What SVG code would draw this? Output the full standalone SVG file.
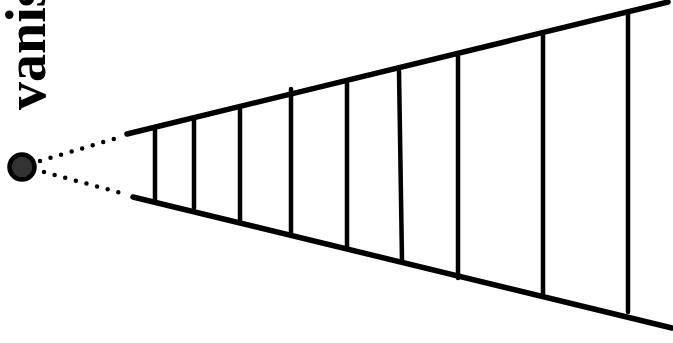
<svg xmlns="http://www.w3.org/2000/svg" width="673" height="343" viewBox="0 0 673 343">
  <style>
    .rail { stroke: #000; stroke-width: 5.5; stroke-linecap: round; fill: none; }
    .rung { stroke: #000; stroke-width: 4.5; stroke-linecap: round; fill: none; }
    .dots { stroke: #000; stroke-width: 4.5; stroke-linecap: round; stroke-dasharray: 0 11; fill: none; }
    .label { font-family: "Liberation Serif", "Times New Roman", serif; font-weight: bold; font-size: 56px; fill: #000; }
  </style>
  <g id="label">
    <text class="label" transform="translate(45,110) rotate(-90)">vanishing point</text>
  </g>
  <g id="vanishing-point">
    <circle cx="22" cy="167" r="12.5" fill="#333" stroke="#000" stroke-width="4.5"/>
  </g>
  <g id="connectors">
    <line class="dots" x1="40" y1="161" x2="117" y2="138"/>
    <line class="dots" x1="44" y1="172" x2="121" y2="193"/>
  </g>
  <g id="rails">
    <line class="rail" x1="127" y1="134" x2="668" y2="2"/>
    <line class="rail" x1="133" y1="197" x2="672" y2="328"/>
  </g>
  <g id="rungs">
    <line class="rung" x1="155" y1="130" x2="155" y2="200"/>
    <line class="rung" x1="194" y1="120" x2="194" y2="208"/>
    <line class="rung" x1="240" y1="109" x2="240" y2="222"/>
    <line class="rung" x1="291" y1="89" x2="291" y2="234"/>
    <line class="rung" x1="347" y1="83" x2="347" y2="247"/>
    <line class="rung" x1="399" y1="71" x2="402" y2="261"/>
    <line class="rung" x1="458" y1="56" x2="458" y2="278"/>
    <line class="rung" x1="543" y1="33" x2="543" y2="297"/>
    <line class="rung" x1="628" y1="14" x2="628" y2="312"/>
  </g>
</svg>
